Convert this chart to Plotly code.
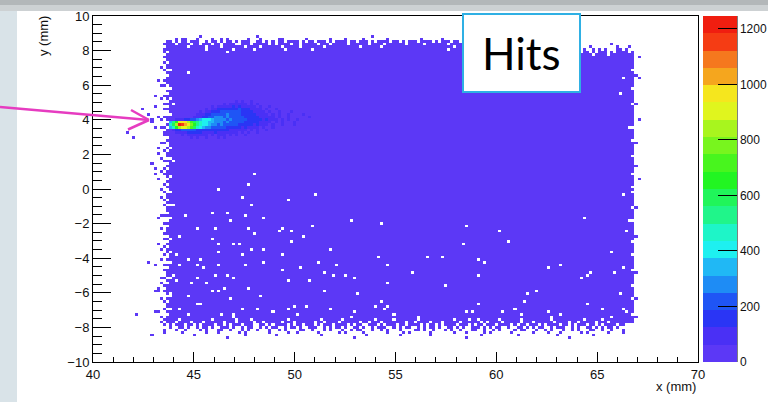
import numpy as np
import plotly.graph_objects as go

# ---------------- data ----------------
x_lo, x_hi, y_lo, y_hi = 40.0, 70.0, -10.0, 10.0
bin_w = 0.15
z_max = 1246.0                      # top of the colour scale (20 contours)
n_bands = 20
cbar_ticks = [0, 200, 400, 600, 800, 1000, 1200]
x_ticks = [40, 45, 50, 55, 60, 65, 70]
y_ticks = [-10, -8, -6, -4, -2, 0, 2, 4, 6, 8, 10]

# solid core of the hit map (bin indices: col = (x-40)/0.15, row = (y+10)/0.15)
core_cols = (27, 175)
core_rows = (18, 116)

# top edge rows 125 -> 117 : left fringe (cols 19-24) | main (cols 25-159) | right part (cols 160-180)
top_rows = [
    ("......", "..........#..................#.....................................#..................................#..............................", ".....................", "."),
    ("......", "..#.##...#....#..#.#......#...#.....##.......#.......#....#.....#.......#..........#......#.........#.....#........#........#......", ".....................", "."),
    (".....#", "#.#.##.###..#.##.#.##.#.###..##.#.#.##.####.#.##.###.#.####.##.###.#.####.##.#.###.####.#.###.##.#####.##.#.#####.###.#.###.##.##", ".....................", "."),
    ("....##", "##.####.##.###.##.####..###.#####.#.####.##.#####.###.#####.######.####.######.#####.#######.######.####.#######.#######.#########", "...........#.........", "#"),
    (".....#", "######.#####.####.#######.####.######.#####.#######.###########.######.#######################.############.######################", "....#........#...#...", "#"),
    ("....##", "############.########.######.#########.########.############################################.###################################", "..#..#.#.#...##.#....", "#"),
    ("....#.", "###################.####################################################################################.######################", "#.##.#.###.#.####.#..", "#"),
    (".....#", "#######################################################################################################################################", "#####.####.########..", "#"),
    ("....##", "#######################################################################################################################################", "###################.#", "#"),
]

# bottom edge rows 17 -> 9 : left fringe (cols 19-24) | main (cols 25-178) | right (cols 179-180)
bottom_rows = [
    ("...#.#", "#####################.######################################.#####################.###########################################.###################.########", "#.", "#"),
    ("....##", "###.##########.#######.####.###########.##########.######.##########.#####.#######.###########.####.#########.######.#########.##########.#####.#########", "..", "#"),
    ("...#.#", "##.####.###.######.###.#####.##.#####.###.######.##.####.######.##.###.#######.##.####.###.#####.######.#.####.#####.###.######.####.##.#####.###.#######", "..", "#"),
    ("....#.", "#.###.##.#.####.##.#.###.###..##.#.####.#.##.###.#.###.####.#.##..###.#.###.##.####.#.##.#.####.###.#.##.###.####.#.##.###.#.####.##.#.###.##.#.####.##", "..", "."),
    ("......", "#..##.#..#.##.#..###.#..#.##..#.#.##..#.##.#..###..#.#.##.#..##.#..#.###..#.#.##..#.#.##.#..##.#.#..###.#.#.##..#..##.#.#.##..#.###..#.#..##.#.#.##.#..", "..", "."),
    ("....#.", "..#..#....#.#...##..#...#.#..#...#..#.#....##..#...#.#...#..#.##...#..#.#...#....##.#..#...#.#..#...##..#..#.#....#.##...#..#.#...#..#.#...##..#..#...#", "..", "."),
    ("......", "....#.......#...#......#.#.......#.....#..#......#......#.#.....#.......#....#.#......#.......#...#.....#.#......#......#....#...#......#.#......#....#..", "..", "."),
    ("......", "........#................#.........#..............#..............#..........#.........#................#...........#............#...........#...........", "..", "."),
    ("......", "...................#.........................................#....................................#.................................#....................", "..", "."),
]

# left fringe columns 19..26, rows 116 -> 18
left_cols = {
    19: ("........................................#...........................................................", "."),
    20: ("..................#.......................#.#..................................#.................#..", "."),
    21: ("........#.............#...........#.#.........#..............#.........#................#........#..", "."),
    22: ("...#......#....#.......#..#.....#.....#....#......#..#......#....#.......#...#......#.#.....#......#.", "."),
    23: (".#..#...#.#...#..#.#..#...#.##..#..#...#..#.#...#..#..#.#...#..#...#.#..#..#...#.#..#..#.#...#..#..", "."),
    24: ("#.##.#.###..#.##.#.#..##.#.###.#..#.##.#.#.###.#.#..##.#.##.#..#.###.#.#.##..#.#.###.#.##.#.#.##.#", "."),
    25: ("####.######.###.#####.####.#######.###.######.#####.####.####.#######.####.###.#####.######.####.##", "#"),
    26: ("#################.#####################.################.##########################.###############", "#"),
}
# right fringe columns 176..180, rows 116 -> 18
right_cols = {
    176: ("###################################################################################################", "#"),
    177: ("##########################.###################################.###################################", "#"),
    178: ("####.######.#####.########.####.#####.######.######.#####.####.#######.####.#####.#####.####.#####.#", "#"),
    179: ("......#..........#..............#........#...............#..........#.............#.........#......", "."),
    180: ("..............................................#.....................................................", "."),
}

# hot spot + diffuse cloud: rows 100 -> 86, cols 25 -> 74; char = colour band (0-9, a-j), '0' = unchanged
spot_top_row, spot_first_col = 100, 25
spot_map = [
    "0000000000000000000000101001000000000000000000000",
    "0000000000000000001011111101010000000000000000000",
    "0000000000000010111112121111101001000000000000000",
    "0000000000001011222222232221111010010000000000000",
    "0000000000101122233333332222111101001000100000000",
    "0000000001112233333433332222211110101001000010000",
    "0000000011122334443433333222221111101001000000100",
    "0011122334566654444343333322222121110101001000000",
    "58aeffdb987665544434333332222211110101000100000000",
    "79djigfca87665443433333222221211101001000100000000",
    "57adeedb976544333332222212111101001000000000000000",
    "0122333332222222222211111101010010000000000000000",
    "0011112222211112111111101010010000000000000000000",
    "0000101111111010111010100100000000000000000000000",
    "0000000101001000101000000000000000000000000000000",
]

# empty bins inside the filled area (x mm, y mm)
hole_x = [48.0, 47.67, 46.30, 47.37, 47.87, 49.60, 51.01, 44.56, 46.63, 45.88, 47.50, 46.79, 48.53, 52.88,
          54.31, 45.14, 46.02, 47.67, 49.19, 49.44, 49.77, 50.84, 50.35, 48.00, 44.23, 45.88, 46.21, 47.21,
          46.96, 47.87, 48.53, 49.44, 49.77, 51.72, 47.37, 46.21, 44.73, 45.39, 44.07, 44.31, 45.22, 46.30,
          47.54, 45.55, 48.53, 49.35, 50.23, 51.14, 52.05, 51.42, 51.88, 52.50, 54.15, 54.59, 54.56, 52.91,
          45.11, 44.15, 44.81, 45.64, 46.13, 46.63, 46.93, 47.70, 46.30, 45.88, 46.55, 46.79, 48.28, 49.60,
          50.68, 51.42, 53.07, 44.69, 43.90, 45.11, 45.39, 47.37, 48.12, 49.60, 49.93, 50.60, 51.72, 52.91,
          50.10, 44.31, 44.73, 46.38, 46.96, 48.86, 53.98, 54.31, 54.69, 54.45, 54.86, 54.98,
          66.84, 66.84, 66.30, 64.36, 66.49, 66.87, 58.53, 60.15, 60.63, 58.36, 56.54, 57.32, 59.10, 59.44,
          65.75, 66.87, 55.77, 59.10, 62.58, 63.16, 64.69, 65.88, 66.30, 64.20, 64.56, 66.87, 57.45, 61.96,
          61.50, 61.34, 59.10, 64.56, 66.18, 60.89, 60.34, 58.53, 58.78, 62.58, 63.16, 65.27, 66.30, 66.49,
          61.22, 59.10, 66.87, 54.89, 44.68, 66.13, 66.26]
hole_y = [0.87, 0.29, -0.02, -0.54, -0.87, -0.67, -0.33, -1.56, -1.37, -1.45, -1.56, -1.85, -1.70, -1.85,
          -1.95, -2.27, -2.27, -2.27, -2.37, -2.27, -2.47, -2.14, -2.66, -2.52, -2.79, -2.95, -3.24, -3.24,
          -3.24, -3.53, -3.53, -3.81, -3.04, -3.49, -3.81, -3.68, -4.07, -4.07, -3.81, -4.45, -4.45, -4.45,
          -4.45, -4.59, -4.20, -4.64, -4.59, -4.20, -4.45, -4.87, -4.91, -5.03, -3.95, -4.33, -5.36, -5.11,
          -5.16, -5.30, -5.45, -5.49, -4.97, -4.97, -5.16, -5.74, -5.84, -5.93, -5.74, -6.38, -6.19, -5.30,
          -5.30, -5.84, -5.99, -6.19, -5.99, -6.57, -6.57, -6.90, -6.90, -6.90, -6.80, -6.76, -6.90, -7.09,
          -7.24, -6.96, -7.28, -7.23, -7.23, -7.09, -6.71, -6.51, -6.76, -6.90, -7.28, -7.53,
          0.87, 0.17, -0.35, -1.75, -2.47, -2.52, -2.14, -2.37, -2.99, -3.20, -3.87, -3.87, -4.07, -4.16,
          -3.68, -3.68, -4.87, -4.97, -4.59, -4.35, -4.78, -4.78, -4.59, -5.16, -5.03, -4.97, -5.61, -5.88,
          -6.09, -6.45, -6.57, -6.57, -5.99, -6.86, -7.09, -7.09, -7.09, -7.09, -7.19, -6.90, -6.90, -7.09,
          -7.28, -7.48, -7.28, -7.28, 6.69, 5.53, 6.43]

# isolated filled bins outside the main block (x mm, y mm)
stray_x = [42.2, 67.02, 67.07, 41.72, 42.08, 42.48, 43.10, 42.80, 42.95, 43.10, 42.90, 42.83, 42.99, 43.47,
           43.00, 43.15, 43.30, 43.45, 43.60]
stray_y = [-7.3, 6.36, 4.05, 3.22, 2.90, 4.68, 5.43, 4.30, 4.00, 3.60, 3.85, -4.20, -8.38, -8.32,
           -5.85, -5.85, -5.85, -5.85, -5.85]

# ---------------- build the 2-D histogram ----------------
nx = int(round((x_hi - x_lo) / bin_w))
ny = int(np.ceil((y_hi - y_lo) / bin_w))
x_c = x_lo + bin_w * (np.arange(nx) + 0.5)
y_c = y_lo + bin_w * (np.arange(ny) + 0.5)
band_w = z_max / n_bands
z = np.full((ny, nx), np.nan)


def band_val(k):
    return (k + 0.5) * band_w


def fit(s, n, pad):
    return (s + pad * n)[:n]


def setbin(col, row, filled, band=0):
    if 0 <= row < ny and 0 <= col < nx:
        z[row, col] = band_val(band) if filled else np.nan


z[core_rows[0]:core_rows[1] + 1, core_cols[0]:core_cols[1] + 1] = band_val(0)

for col, (s, pad) in list(left_cols.items()) + list(right_cols.items()):
    s = fit(s, core_rows[1] - core_rows[0] + 1, pad)
    for i, ch in enumerate(s):
        setbin(col, core_rows[1] - i, ch == "#")

for i, (l, m, r, pad) in enumerate(top_rows):
    s = fit(l, 6, ".") + fit(m, 135, pad) + fit(r, 21, ".")
    for j, ch in enumerate(s):
        setbin(19 + j, 125 - i, ch == "#")

for i, (l, m, r, pad) in enumerate(bottom_rows):
    s = fit(l, 6, ".") + fit(m, 154, pad) + fit(r, 2, ".")
    for j, ch in enumerate(s):
        setbin(19 + j, 17 - i, ch == "#")

for hx, hy in zip(hole_x, hole_y):
    setbin(int((hx - x_lo) / bin_w), int((hy - y_lo) / bin_w), False)

for sx, sy in zip(stray_x, stray_y):
    setbin(int((sx - x_lo) / bin_w), int((sy - y_lo) / bin_w), True)

for i, line in enumerate(spot_map):
    for j, ch in enumerate(line):
        if ch != "0":
            setbin(spot_first_col + j, spot_top_row - i, True, int(ch, 36))

# ---------------- styling ----------------
band_colors = ["#5c38f6", "#4a30f5", "#2a35f5", "#1f55f5", "#1e8cf5", "#20b8f5", "#1ef0f0", "#1ef5c8",
               "#20f58a", "#20f55a", "#22f522", "#48f51e", "#78f51e", "#a8f51e", "#e0f51e", "#f5e61e",
               "#f5a61e", "#f5781e", "#f53c14", "#f01e10"]
cscale = []
for k, c in enumerate(band_colors):
    cscale.append([k / n_bands, c])
    cscale.append([(k + 1) / n_bands, c])

W, H = 768, 402
ml, mr, mt, mb = 93, 70, 16, 40
pw, ph = W - ml - mr, H - mt - mb


def px(xp):
    return (xp - ml) / pw


def py(yp):
    return (H - mb - yp) / ph


font = "Liberation Sans, Arial, sans-serif"

fig = go.Figure(go.Heatmap(
    x=x_c, y=y_c, z=z, zmin=0, zmax=z_max, colorscale=cscale, zsmooth=False,
    hoverinfo="skip",
    colorbar=dict(
        x=px(703), xanchor="left", xpad=0, y=0.5, yanchor="middle", ypad=0,
        len=1, lenmode="fraction", thickness=34, outlinewidth=0,
        tickmode="array", tickvals=cbar_ticks, ticktext=[str(v) for v in cbar_ticks],
        ticks="inside", ticklen=19, tickwidth=1, tickcolor="black",
        tickfont=dict(family=font, size=12, color="#111"),
    ),
))

shapes = [
    dict(type="rect", xref="paper", yref="paper", x0=px(0), x1=px(17), y0=py(W), y1=py(0),
         fillcolor="#d9e3e8", line=dict(width=0), layer="below"),
    dict(type="rect", xref="paper", yref="paper", x0=px(0), x1=px(W), y0=py(11), y1=py(5),
         fillcolor="#cdd1d3", line=dict(width=0), layer="below"),
    dict(type="rect", xref="paper", yref="paper", x0=px(0), x1=px(W), y0=py(5), y1=py(0),
         fillcolor="#b3b7b9", line=dict(width=0), layer="below"),
    # palette axis line
    dict(type="line", xref="paper", yref="paper", x0=px(737), x1=px(737), y0=0, y1=1,
         line=dict(color="black", width=1)),
    # "Hits" label box
    dict(type="rect", xref="paper", yref="paper", x0=px(463), x1=px(580), y0=py(92), y1=py(14),
         fillcolor="white", line=dict(color="#2fb0e4", width=2)),
    # pink arrow
    dict(type="line", xref="paper", yref="paper", x0=px(0), y0=py(107), x1=px(149), y1=py(120),
         line=dict(color="#e63cc0", width=2.5)),
    dict(type="line", xref="paper", yref="paper", x0=px(128), y0=py(129.5), x1=px(149), y1=py(120),
         line=dict(color="#e63cc0", width=2.5)),
    dict(type="line", xref="paper", yref="paper", x0=px(131), y0=py(110), x1=px(149), y1=py(120),
         line=dict(color="#e63cc0", width=2.5)),
]

annotations = [
    dict(text="Hits", xref="paper", yref="paper", x=px(521.5), y=py(53), xanchor="center", yanchor="middle",
         showarrow=False, font=dict(family="Lato, sans-serif", size=44, color="black")),
    dict(text="x (mm)", xref="paper", yref="paper", x=px(698), y=py(386), xanchor="right", yanchor="middle",
         showarrow=False, font=dict(family=font, size=13, color="#111")),
    dict(text="y (mm)", xref="paper", yref="paper", x=px(44), y=py(36), xanchor="center", yanchor="middle",
         textangle=-90, showarrow=False, font=dict(family=font, size=13, color="#111")),
]

axis_common = dict(showgrid=False, zeroline=False, showline=True, linecolor="black", linewidth=1,
                   mirror=True, ticks="inside", tickcolor="black", tickwidth=1,
                   tickfont=dict(family=font, size=13, color="#111"))

fig.update_layout(
    width=W, height=H, margin=dict(l=ml, r=mr, t=mt, b=mb, autoexpand=False),
    paper_bgcolor="white", plot_bgcolor="white",
    xaxis=dict(range=[x_lo, x_hi], tickmode="array", tickvals=x_ticks, ticklen=10,
               minor=dict(dtick=1, tick0=40, ticks="inside", ticklen=5, tickcolor="black", showgrid=False),
               **axis_common),
    yaxis=dict(range=[y_lo, y_hi], tickmode="array", tickvals=y_ticks, ticklen=18,
               minor=dict(dtick=0.5, tick0=-10, ticks="inside", ticklen=9, tickcolor="black", showgrid=False),
               **axis_common),
    shapes=shapes, annotations=annotations, showlegend=False,
)

fig.write_html("out.html", config={"displayModeBar": False},
               post_script="document.body.style.margin='0';document.body.style.overflow='hidden';")
